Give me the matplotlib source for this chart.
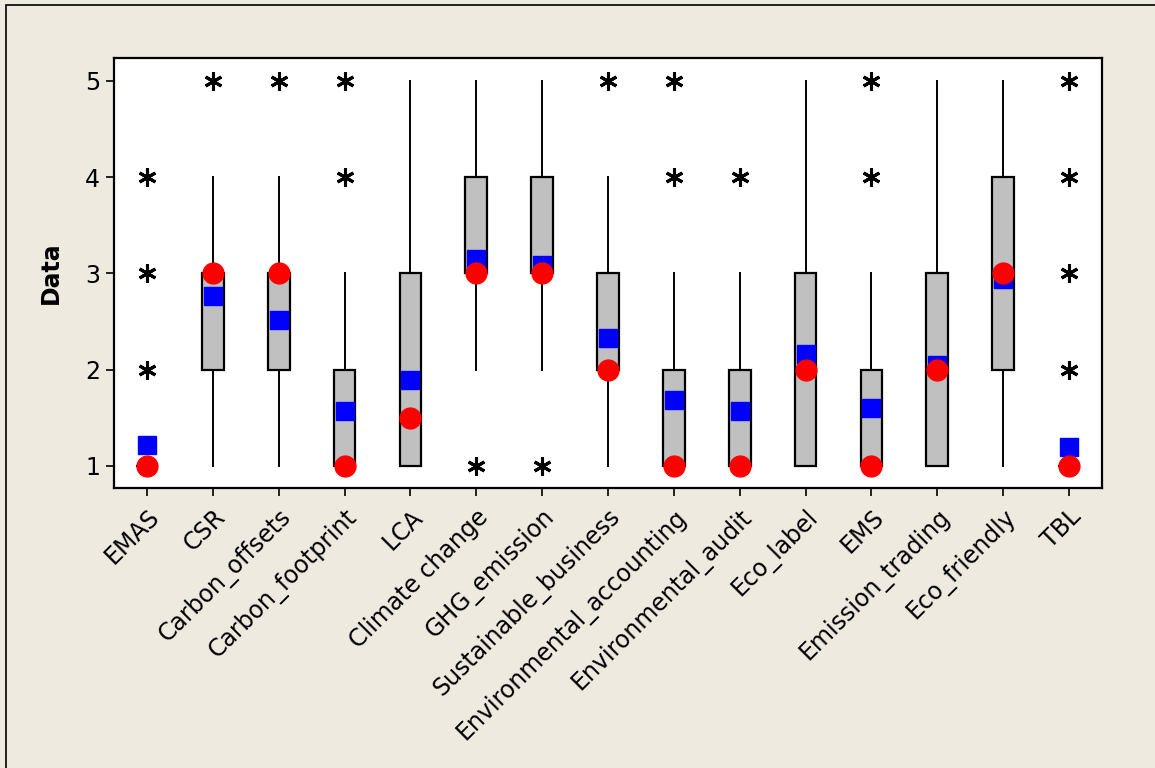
import numpy as np
import matplotlib
matplotlib.use("Agg")
from matplotlib import pyplot as plt
from matplotlib.patches import Rectangle

# Values (Likert 1-5)
labels = ['EMAS', 'CSR', 'Carbon_offsets', 'Carbon_footprint', 'LCA',
          'Climate change', 'GHG_emission', 'Sustainable_business',
          'Environmental_accounting', 'Environmental_audit', 'Eco_label',
          'EMS', 'Emission_trading', 'Eco_friendly', 'TBL']
q1 = [1, 2, 2, 1, 1, 3, 3, 2, 1, 1, 1, 1, 1, 2, 1]
medians = [1, 3, 3, 1, 1.5, 3, 3, 2, 1, 1, 2, 1, 2, 3, 1]
q3 = [1, 3, 3, 2, 3, 4, 4, 3, 2, 2, 3, 2, 3, 4, 1]
whisker_low = [1, 1, 1, 1, 1, 2, 2, 1, 1, 1, 1, 1, 1, 1, 1]
whisker_high = [1, 4, 4, 3, 5, 5, 5, 4, 3, 3, 5, 3, 5, 5, 1]
means = [1.22, 2.76, 2.51, 1.57, 1.89, 3.15, 3.09, 2.33, 1.68, 1.57,
         2.16, 1.60, 2.05, 2.94, 1.20]
outliers = [[2, 3, 4], [5], [5], [4, 5], [], [1], [1], [5], [4, 5], [4],
            [], [4, 5], [], [], [2, 3, 4, 5]]

BG = '#EEEAE0'

stats = []
for i in range(len(labels)):
    stats.append(dict(q1=q1[i], med=medians[i], q3=q3[i],
                      whislo=whisker_low[i], whishi=whisker_high[i],
                      mean=means[i], fliers=outliers[i], label=labels[i]))

fig = plt.figure(figsize=(11.55, 7.68), dpi=100, facecolor=BG)
ax = fig.add_axes([114 / 1155, 1 - 488 / 768, 988 / 1155, 430 / 768])
ax.set_facecolor('white')

pos = np.arange(1, len(labels) + 1)
ax.bxp(stats, positions=pos, widths=0.33, patch_artist=True,
       showcaps=False, showmeans=False,
       boxprops=dict(facecolor='#C0C0C0', edgecolor='black', linewidth=1.6),
       whiskerprops=dict(color='black', linewidth=1.4),
       medianprops=dict(color='black', linewidth=1.4),
       flierprops=dict(marker=(6, 2, 0), markersize=13, markeredgewidth=2.2,
                       markeredgecolor='black', linestyle='none'))

ax.plot(pos, means, 's', color='#0000FF', markersize=13, zorder=5)
ax.plot(pos, medians, 'o', color='#FF0000', markersize=15, zorder=6)

ax.set_xlim(0.5, 15.5)
ax.set_ylim(0.77, 5.236)
ax.set_yticks([1, 2, 3, 4, 5])
ax.set_xticks(pos)
ax.set_xticklabels(labels, rotation=45, ha='right', va='top',
                   rotation_mode='anchor', fontsize=17)
ax.tick_params(axis='y', labelsize=17, length=6, width=1.2, pad=4)
ax.tick_params(axis='x', length=6, width=1.2, pad=6)
ax.set_ylabel('Data', fontsize=17, fontweight='bold', labelpad=16)
for sp in ax.spines.values():
    sp.set_linewidth(1.6)
    sp.set_color('black')

# outer frame of the graph window
fig.patches.append(Rectangle((6 / 1155, -0.1), 1.2, 1.1 - 5 / 768,
                             transform=fig.transFigure, fill=False,
                             edgecolor='black', linewidth=1.2))

fig.savefig('out.png', dpi=100, facecolor=BG)
